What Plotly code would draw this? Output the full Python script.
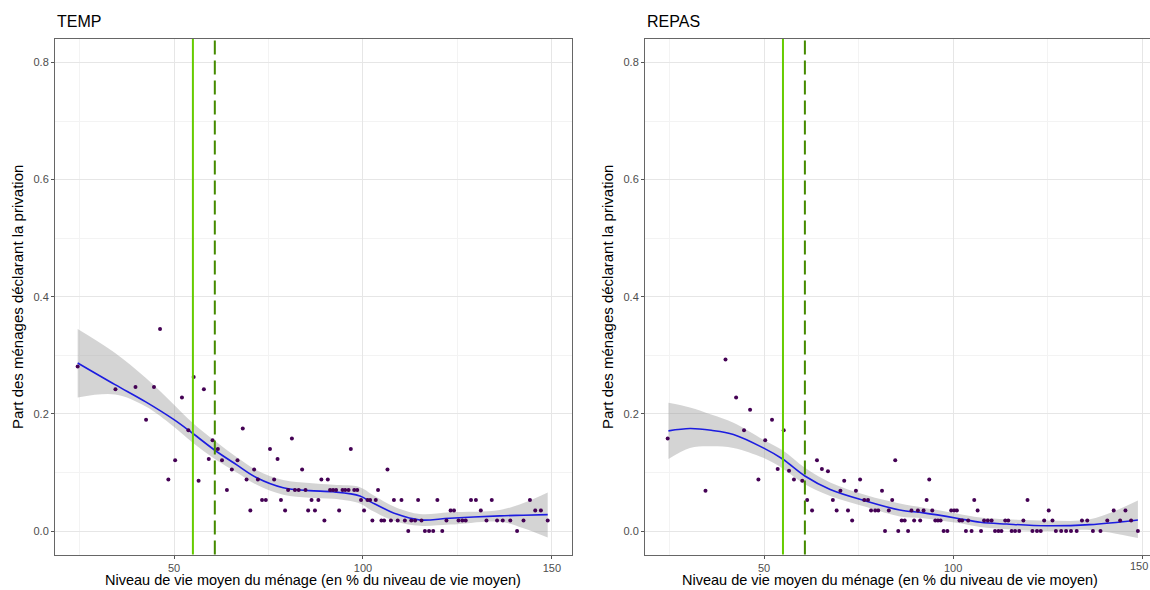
import plotly.graph_objects as go

# ---------------- data ----------------
temp_x = [24.5, 34.5, 39.8, 42.6, 44.7, 46.3, 48.5, 50.3, 52.1, 53.8, 55.2, 56.5, 57.9, 59.2, 60.2,
          61.6, 62.7, 64.0, 65.3, 66.8, 68.2, 69.2, 70.2, 71.2, 72.2, 73.3, 74.3, 75.4, 76.5, 77.4,
          78.3, 79.4, 80.2, 81.2, 82.0, 83.0, 83.9, 84.8, 85.5, 86.4, 87.3, 88.2, 89.0, 89.8, 90.7,
          91.3, 92.1, 92.9, 93.7, 94.6, 95.3, 96.2, 96.8, 97.7, 98.5, 99.5, 100.3, 101.2, 101.9, 102.5,
          103.4, 104.0, 104.9, 105.6, 106.5, 107.4, 108.2, 109.2, 110.2, 111.1, 112.0, 112.8, 113.8, 114.6, 115.5,
          116.4, 117.5, 118.6, 119.7, 121.0, 122.1, 123.2, 124.1, 125.3, 126.3, 127.2, 128.6, 129.9, 131.2, 132.7,
          134.1, 135.5, 137.0, 139.0, 140.8, 142.5, 144.2, 145.6, 147.1, 148.9]
temp_y = [0.281, 0.242, 0.246, 0.190, 0.246, 0.345, 0.088, 0.121, 0.228, 0.172, 0.263, 0.086, 0.242, 0.123, 0.155,
          0.140, 0.121, 0.070, 0.105, 0.121, 0.175, 0.088, 0.035, 0.105, 0.088, 0.053, 0.053, 0.140, 0.088, 0.123,
          0.053, 0.035, 0.070, 0.158, 0.070, 0.070, 0.105, 0.070, 0.035, 0.053, 0.035, 0.053, 0.088, 0.018, 0.088,
          0.070, 0.070, 0.070, 0.035, 0.070, 0.070, 0.070, 0.140, 0.070, 0.070, 0.053, 0.035, 0.053, 0.053, 0.018,
          0.053, 0.070, 0.018, 0.018, 0.105, 0.018, 0.053, 0.018, 0.053, 0.018, 0.000, 0.018, 0.018, 0.053, 0.018,
          0.000, 0.000, 0.000, 0.053, 0.000, 0.018, 0.035, 0.035, 0.018, 0.018, 0.018, 0.053, 0.053, 0.035, 0.018,
          0.053, 0.018, 0.018, 0.018, 0.000, 0.018, 0.053, 0.035, 0.035, 0.018]

repas_x = [24.5, 34.5, 39.8, 42.6, 44.7, 46.3, 48.5, 50.3, 52.1, 53.6, 55.2, 56.6, 57.9, 60.1, 61.4,
           62.7, 64.0, 65.3, 66.9, 68.2, 69.2, 70.2, 71.2, 72.2, 73.3, 74.3, 75.4, 76.5, 77.5, 78.3,
           79.4, 80.2, 81.2, 82.0, 83.0, 83.9, 84.7, 85.5, 86.4, 87.2, 88.1, 89.0, 89.7, 90.7, 91.3,
           92.2, 93.0, 93.7, 94.5, 95.3, 96.0, 96.7, 97.5, 98.5, 99.5, 100.3, 101.0, 101.7, 102.4, 103.4,
           104.0, 104.9, 105.6, 106.5, 107.4, 108.2, 109.2, 110.2, 111.1, 112.0, 112.8, 113.8, 114.6, 115.5, 116.4,
           117.5, 118.6, 119.7, 121.0, 122.2, 123.2, 124.1, 125.3, 126.3, 127.2, 128.6, 129.9, 131.2, 132.7, 134.1,
           135.5, 137.0, 139.0, 140.8, 142.5, 144.2, 145.6, 147.1, 148.9]
repas_y = [0.158, 0.069, 0.293, 0.228, 0.172, 0.207, 0.088, 0.155, 0.190, 0.106, 0.172, 0.103, 0.088, 0.086, 0.053,
           0.035, 0.121, 0.106, 0.102, 0.053, 0.035, 0.069, 0.086, 0.035, 0.018, 0.069, 0.088, 0.053, 0.053, 0.035,
           0.035, 0.035, 0.069, 0.000, 0.035, 0.053, 0.121, 0.000, 0.018, 0.018, 0.000, 0.035, 0.018, 0.035, 0.018,
           0.035, 0.053, 0.088, 0.035, 0.018, 0.018, 0.018, 0.000, 0.000, 0.035, 0.035, 0.035, 0.018, 0.018, 0.000,
           0.018, 0.000, 0.053, 0.035, 0.000, 0.018, 0.018, 0.018, 0.000, 0.000, 0.000, 0.018, 0.018, 0.000, 0.000,
           0.000, 0.018, 0.053, 0.000, 0.000, 0.000, 0.018, 0.035, 0.018, 0.000, 0.000, 0.000, 0.000, 0.000, 0.018,
           0.018, 0.000, 0.000, 0.018, 0.035, 0.018, 0.035, 0.018, 0.000]

# smoothed curves with confidence band
temp_sx = [24.5, 34.4, 42.4, 49.8, 54.9, 60.8, 66.6, 71.9, 78.9, 85.8, 92.1, 99.2, 102.3, 108.9, 115.1, 123.0, 136.2, 142.5, 148.9]
temp_sy = [0.287, 0.250, 0.221, 0.191, 0.167, 0.138, 0.113, 0.091, 0.074, 0.069, 0.067, 0.060, 0.049, 0.029, 0.019, 0.022, 0.026, 0.027, 0.028]
temp_lo = [0.228, 0.233, 0.213, 0.179, 0.151, 0.123, 0.100, 0.079, 0.062, 0.057, 0.055, 0.047, 0.035, 0.016, 0.009, 0.011, 0.016, 0.005, -0.011]
temp_hi = [0.345, 0.304, 0.262, 0.217, 0.185, 0.154, 0.126, 0.104, 0.087, 0.082, 0.079, 0.075, 0.063, 0.040, 0.029, 0.032, 0.036, 0.048, 0.066]

repas_sx = [24.7, 30.4, 36.0, 41.9, 49.8, 54.9, 60.8, 67.5, 77.1, 85.9, 92.2, 101.0, 107.2, 114.2, 124.8, 136.2, 148.9]
repas_sy = [0.171, 0.175, 0.172, 0.165, 0.142, 0.123, 0.094, 0.071, 0.051, 0.036, 0.031, 0.022, 0.015, 0.012, 0.009, 0.011, 0.019]
repas_lo = [0.123, 0.142, 0.145, 0.142, 0.125, 0.107, 0.080, 0.060, 0.041, 0.025, 0.022, 0.014, 0.007, 0.003, 0.000, 0.002, -0.012]
repas_hi = [0.219, 0.211, 0.199, 0.185, 0.156, 0.138, 0.108, 0.083, 0.061, 0.047, 0.040, 0.030, 0.023, 0.020, 0.018, 0.020, 0.052]

vline_solid = 55.0
vline_dashed = 60.8

panel_titles = ["TEMP", "REPAS"]
x_title = "Niveau de vie moyen du ménage (en % du niveau de vie moyen)"
y_title = "Part des ménages déclarant la privation"

# ---------------- figure ----------------
W, H = 1150, 590
FONT = "Liberation Sans, Arial, Helvetica, sans-serif"
POINT = "#440154"
SMOOTH = "#1c1ce0"
BAND = "rgba(153,153,153,0.42)"
TICK_SIZE = 11

fig = go.Figure()

panels = [
    ("x", "y", temp_x, temp_y, temp_sx, temp_sy, temp_lo, temp_hi),
    ("x2", "y2", repas_x, repas_y, repas_sx, repas_sy, repas_lo, repas_hi),
]
for xa, ya, px, py, sx, sy, lo, hi in panels:
    fig.add_trace(go.Scatter(x=sx, y=lo, xaxis=xa, yaxis=ya, mode="lines",
                             line=dict(width=0, shape="spline"), hoverinfo="skip", showlegend=False))
    fig.add_trace(go.Scatter(x=sx, y=hi, xaxis=xa, yaxis=ya, mode="lines", fill="tonexty",
                             fillcolor=BAND, line=dict(width=0, shape="spline"),
                             hoverinfo="skip", showlegend=False))
    fig.add_trace(go.Scatter(x=sx, y=sy, xaxis=xa, yaxis=ya, mode="lines",
                             line=dict(color=SMOOTH, width=1.6, shape="spline"), showlegend=False))
    fig.add_trace(go.Scatter(x=px, y=py, xaxis=xa, yaxis=ya, mode="markers",
                             marker=dict(color=POINT, size=4, line=dict(width=0)), showlegend=False))
    fig.add_shape(type="line", xref=xa, yref=f"{ya} domain", x0=vline_solid, x1=vline_solid, y0=0, y1=1,
                  line=dict(color="#66CC00", width=2), layer="above")
    fig.add_shape(type="line", xref=xa, yref=f"{ya} domain", x0=vline_dashed, x1=vline_dashed, y0=0, y1=1,
                  line=dict(color="#458B00", width=2, dash="14px,6px"), layer="above")

y_top, y_bot = 39, 554.5
ydom = [1 - y_bot / H, 1 - y_top / H]
left_dom = [55 / W, 571.5 / W]
right_dom = [645 / W, 1.0]

common_x = dict(
    tick0=0, dtick=50, showgrid=True, gridcolor="#E6E6E6", gridwidth=1,
    minor=dict(dtick=25, showgrid=True, gridcolor="#F3F3F3", gridwidth=0.8),
    zeroline=False, showline=True, linecolor="#666666", linewidth=1,
    ticks="outside", ticklen=3, tickcolor="#555555", tickwidth=1,
    tickfont=dict(family=FONT, size=TICK_SIZE, color="#4D4D4D"),
)
common_y = dict(
    range=[-0.04, 0.84], tick0=0, dtick=0.2, tickformat=".1f",
    showgrid=True, gridcolor="#E6E6E6", gridwidth=1,
    minor=dict(dtick=0.1, showgrid=True, gridcolor="#F3F3F3", gridwidth=0.8),
    zeroline=False, showline=True, linecolor="#666666", linewidth=1,
    ticks="outside", ticklen=3, tickcolor="#555555", tickwidth=1,
    tickfont=dict(family=FONT, size=TICK_SIZE, color="#4D4D4D"), domain=ydom,
)

fig.update_layout(
    width=W, height=H, margin=dict(l=0, r=0, t=0, b=0),
    paper_bgcolor="white", plot_bgcolor="white", showlegend=False,
    font=dict(family=FONT, color="black"),
    xaxis=dict(common_x, domain=left_dom, range=[18.5, 155.2], anchor="y", mirror=True),
    yaxis=dict(common_y, anchor="x", mirror=True),
    xaxis2=dict(common_x, domain=right_dom, range=[18.5, 152.1], anchor="y2", mirror=True),
    yaxis2=dict(common_y, anchor="x2", mirror=False),
)

ann = []
for i, (cx_title, px_left, ytitle_x) in enumerate([(313, 55, 18), (890, 645, 608)]):
    ann.append(dict(text=panel_titles[i], x=px_left / W, y=1 - 21.5 / H, xref="paper", yref="paper",
                    xanchor="left", yanchor="middle", showarrow=False,
                    font=dict(family=FONT, size=16, color="black")))
    ann.append(dict(text=x_title, x=cx_title / W, y=1 - 590 / H, xref="paper", yref="paper",
                    xanchor="center", yanchor="bottom", showarrow=False,
                    font=dict(family=FONT, size=14.5, color="black")))
    ann.append(dict(text=y_title, x=ytitle_x / W, y=1 - 297 / H, xref="paper", yref="paper",
                    xanchor="center", yanchor="middle", textangle=-90, showarrow=False,
                    font=dict(family=FONT, size=15, color="black")))
# edge tick label of the right panel (clipped by the picture border in the reference)
ann.append(dict(text="150", x=1149.5 / W, xref="paper", y=1 - 566 / H, yref="paper", xanchor="right",
                yanchor="middle", showarrow=False, font=dict(family=FONT, size=TICK_SIZE, color="#4D4D4D")))
fig.update_layout(annotations=ann)

fig.write_html("out.html")
